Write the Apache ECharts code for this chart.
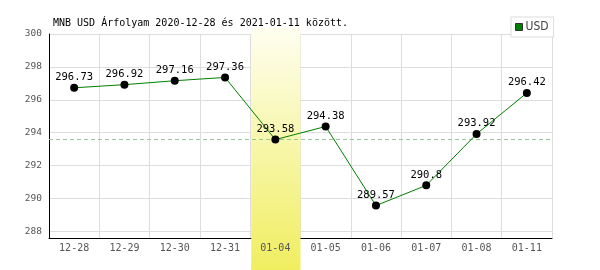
<!DOCTYPE html>
<html>
<head>
<meta charset="utf-8">
<script src="https://cdn.jsdelivr.net/npm/echarts@6/dist/echarts.min.js"></script>
<style>
html,body{margin:0;padding:0;background:#fff;}
#c{width:600px;height:270px;}
</style>
</head>
<body>
<div id="c"></div>
<script>
const titleText = 'MNB USD Árfolyam 2020-12-28 és 2021-01-11 között.';
const seriesName = 'USD';
const categories = ['12-28','12-29','12-30','12-31','01-04','01-05','01-06','01-07','01-08','01-11'];
const values = [296.73, 296.92, 297.16, 297.36, 293.58, 294.38, 289.57, 290.8, 293.92, 296.42];
const highlightCategory = '01-04';
const yMin = 287.6;
const yMax = 300;

const mono = '"DejaVu Sans Mono", monospace';
const hlIndex = categories.indexOf(highlightCategory);

const chart = echarts.init(document.getElementById('c'), null, {renderer: 'canvas'});
const option = {
  animation: false,
  backgroundColor: '#fff',
  title: {
    text: titleText,
    left: 48, top: 13,
    textStyle: {fontFamily: mono, fontSize: 10, fontWeight: 'normal', color: '#000'}
  },
  legend: {
    data: [{name: seriesName, icon: 'rect', itemStyle: {color: '#008000', borderColor: '#333', borderWidth: 1}}],
    left: 511, top: 17,
    padding: [4, 5, 4, 4],
    itemWidth: 7, itemHeight: 7, itemGap: 0,
    borderColor: '#ddd', borderWidth: 1,
    backgroundColor: '#fff',
    textStyle: {fontFamily: '"Liberation Sans Narrow", "DejaVu Sans Condensed", sans-serif', fontSize: 12, color: '#444', padding: [0,0,0,-2]}
  },
  grid: {left: 49, right: 48, top: 34, bottom: 32},
  xAxis: [{
    type: 'category', data: categories, boundaryGap: true, z: 0,
    axisLine: {show: true, lineStyle: {color: '#000', width: 1}},
    axisTick: {show: false},
    axisLabel: {show: false},
    splitLine: {show: true, lineStyle: {color: '#ddd', width: 1}}
  }, {
    type: 'category', data: categories, boundaryGap: true, position: 'bottom', z: 10,
    axisLine: {show: false}, axisTick: {show: false},
    splitLine: {show: false},
    axisLabel: {show: true, margin: 5, fontFamily: mono, fontSize: 10, color: '#555'}
  }],
  yAxis: {
    type: 'value', min: yMin, max: yMax, splitNumber: 6,
    axisLine: {show: true, lineStyle: {color: '#000', width: 1}},
    axisTick: {show: false},
    axisLabel: {showMinLabel: false, margin: 7, fontFamily: mono, fontSize: 9.5, color: '#555'},
    splitLine: {show: true, lineStyle: {color: '#ddd', width: 1}}
  },
  series: [{
    name: seriesName, type: 'line', data: values, xAxisIndex: 0, z: 5,
    symbol: 'circle', symbolSize: 8,
    itemStyle: {color: '#000'},
    lineStyle: {color: '#008000', width: 1},
    label: {show: true, position: 'top', distance: 1, fontFamily: mono, fontSize: 10.5, color: '#000'},
    markLine: {
      silent: true, symbol: ['none','none'], label: {show: false},
      lineStyle: {color: '#99c799', type: [4, 3], width: 1},
      data: [{yAxis: values[hlIndex]}]
    }
  }]
};
chart.setOption(option);

const cx = chart.convertToPixel({xAxisIndex: 0}, categories[hlIndex]);
const cx2 = chart.convertToPixel({xAxisIndex: 0}, categories[hlIndex + 1]);
const bw = cx2 - cx;
const topY = chart.convertToPixel({yAxisIndex: 0}, yMax) - 6;
chart.setOption({
  graphic: [{
    type: 'rect', z: 3, silent: true,
    shape: {x: cx - bw / 2 + 1, y: topY, width: bw - 1, height: 270 - topY},
    style: {fill: new echarts.graphic.LinearGradient(0, 0, 0, 1, [
      {offset: 0, color: '#fefef0'},
      {offset: 1, color: '#f0ee60'}
    ])}
  }]
});
</script>
</body>
</html>
